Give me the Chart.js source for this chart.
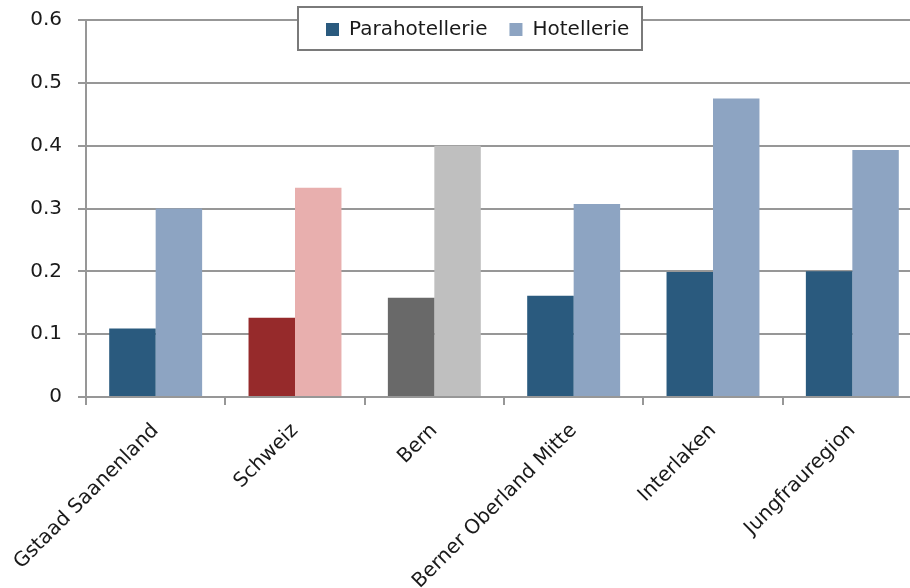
<!DOCTYPE html>
<html>
<head>
<meta charset="utf-8">
<title>Parahotellerie / Hotellerie</title>
<script src="https://cdn.jsdelivr.net/npm/chart.js@4.4.1/dist/chart.umd.min.js"></script>
<style>
  html, body { margin: 0; padding: 0; background: #fff; overflow: hidden; }
  #wrap { position: relative; width: 922px; height: 588px; }
</style>
</head>
<body>
<div id="wrap"><canvas id="barChart"></canvas></div>
<script>
// data
const categories = ["Gstaad Saanenland", "Schweiz", "Bern", "Berner Oberland Mitte", "Interlaken", "Jungfrauregion"];
const paraValues = [0.109, 0.126, 0.158, 0.161, 0.199, 0.2];
const hotelValues = [0.3, 0.333, 0.4, 0.307, 0.475, 0.393];
const yTicks = [0, 0.1, 0.2, 0.3, 0.4, 0.5, 0.6];

// colours (Schweiz and Bern are highlighted)
const paraColors = ["#2a5a7e", "#962a2b", "#696969", "#2a5a7e", "#2a5a7e", "#2a5a7e"];
const hotelColors = ["#8da4c2", "#e8afae", "#bfbfbf", "#8da4c2", "#8da4c2", "#8da4c2"];

const gridColor = "#979797";
const textColor = "#1a1a1a";
const font = { family: "'DejaVu Sans', sans-serif", size: 20 };

function pick(list) {
	return function (ctx) {
		return ctx.type === "data" ? list[ctx.dataIndex] : list[0];
	};
}

// legend placed over the top of the plot, in one row, with a framed white box
const legendBox = {
	id: "legendBox",
	beforeLayout(chart) {
		chart.legend.isHorizontal = () => true;
	},
	afterLayout(chart) {
		const lg = chart.legend;
		const pad = lg.options.labels.padding;
		lg.left = 326 - pad;
		lg.right = 760;
		lg.top = 19.5 - pad;
		lg.bottom = lg.top + 80;
	},
	afterDraw(chart) {
		const c = chart.ctx;
		c.save();
		c.fillStyle = "#fff";
		c.fillRect(298, 7, 344, 43);
		c.strokeStyle = "#7a7a7a";
		c.lineWidth = 2;
		c.strokeRect(298, 7, 344, 43);
		c.restore();
		chart.legend.draw();
	},
};

new Chart(document.getElementById("barChart"), {
	type: "bar",
	data: {
		labels: categories,
		datasets: [
			{
				label: "Parahotellerie",
				data: paraValues,
				backgroundColor: pick(paraColors),
				borderWidth: 0,
			},
			{
				label: "Hotellerie",
				data: hotelValues,
				backgroundColor: pick(hotelColors),
				borderWidth: 0,
			},
		],
	},
	options: {
		responsive: true,
		maintainAspectRatio: false,
		animation: false,
		devicePixelRatio: 1,
		layout: { padding: { top: 20, right: 0, bottom: 0, left: 0 } },
		datasets: {
			bar: { categoryPercentage: 0.667, barPercentage: 1 },
		},
		plugins: {
			tooltip: { enabled: false },
			legend: {
				position: "chartArea",
				align: "start",
				labels: {
					boxWidth: 13,
					boxHeight: 13,
					padding: 22,
					color: textColor,
					font: font,
				},
			},
		},
		scales: {
			x: {
				offset: true,
				grid: {
					offset: true,
					drawOnChartArea: false,
					drawTicks: true,
					tickLength: 8,
					color: gridColor,
					lineWidth: 2,
				},
				border: { display: true, color: gridColor, width: 2 },
				ticks: {
					color: textColor,
					font: font,
					minRotation: 45,
					maxRotation: 45,
					padding: 14,
					autoSkip: false,
				},
				afterFit(s) {
					s.height = 191;
					s.paddingLeft = 0;
					s.paddingRight = 0;
				},
			},
			y: {
				min: 0,
				max: 0.6,
				afterBuildTicks(s) {
					s.ticks = yTicks.map((v) => ({ value: v }));
				},
				grid: {
					color: gridColor,
					lineWidth: 2,
					drawTicks: true,
					tickLength: 8,
				},
				border: { display: true, color: gridColor, width: 2 },
				ticks: {
					color: textColor,
					font: font,
					padding: 16,
					callback: (v) => (v === 0 ? "0" : v.toFixed(1)),
				},
				afterFit(s) {
					s.width = 86;
					s.paddingTop = 0;
					s.paddingBottom = 0;
				},
			},
		},
	},
	plugins: [legendBox],
});
</script>
</body>
</html>
